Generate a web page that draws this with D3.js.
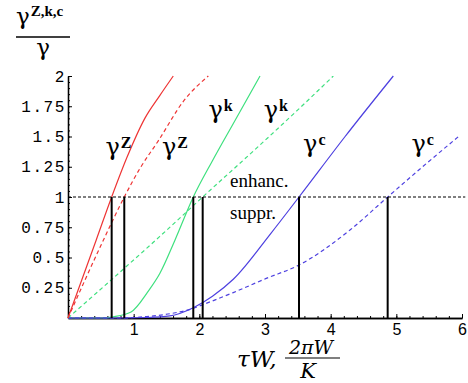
<!DOCTYPE html>
<html>
<head>
<meta charset="utf-8">
<script src="https://cdn.jsdelivr.net/npm/d3@7"></script>
<style>
  body { margin: 0; background: #fff; }
  svg { display: block; }
</style>
</head>
<body>
<div id="chart"></div>
<script>
// values
const redSolidX   = [0, 0.43, 0.665, 0.9, 1.17, 1.40, 1.603];
const redSolidY   = [0, 0.645, 1, 1.33, 1.65, 1.84, 2];
const redDashX    = [0, 0.54, 0.857, 1.1, 1.37, 1.77, 2.137];
const redDashY    = [0, 0.645, 1, 1.24, 1.46, 1.80, 2];
const greenSolidX = [0, 0.5, 0.69, 0.96, 1.22, 1.40, 1.63, 1.908, 2.2, 2.52, 2.924];
const greenSolidY = [0, 0, 0.01, 0.05, 0.22, 0.37, 0.645, 1, 1.3, 1.61, 2];
const greenDashX  = [0, 0.69, 1.39, 2.051, 2.924, 3.5, 4.04];
const greenDashY  = [0, 0.33, 0.67, 1, 1.43, 1.72, 2];
const blueSolidX  = [0, 0.8, 1.2, 1.55, 1.908, 2.2, 2.517, 3.09, 3.518, 4.22, 4.954];
const blueSolidY  = [0, 0, 0.004, 0.017, 0.085, 0.18, 0.32, 0.70, 1, 1.5, 2];
const blueDashX   = [0, 0.8, 1.2, 1.55, 1.908, 2.0, 2.517, 3.01, 3.518, 4.294, 4.868, 5.4, 5.97];
const blueDashY   = [0, 0, 0.012, 0.035, 0.08, 0.099, 0.21, 0.325, 0.438, 0.727, 1, 1.25, 1.51];

// where each curve crosses 1 (vertical markers)
const crossings = [0.665, 0.857, 1.908, 2.051, 3.518, 4.868];

const yTickValues = [0.25, 0.5, 0.75, 1, 1.25, 1.5, 1.75, 2];
const yTickLabels = ['0.25', '0.5', '0.75', '1', '1.25', '1.5', '1.75', '2'];
const xTickValues = [1, 2, 3, 4, 5, 6];

// curve labels: [x value, y value, superscript]
const curveLabels = [
    [0.57, 1.345, 'Z'], [1.43, 1.345, 'Z'],
    [2.14, 1.65, 'k'], [2.98, 1.65, 'k'],
    [3.58, 1.37, 'c'], [5.23, 1.37, 'c']
];

const width = 468, height = 383;
const x = d3.scaleLinear().domain([0, 6]).range([68, 462]);
const y = d3.scaleLinear().domain([0, 2]).range([318, 76]);

const svg = d3.select('#chart')
    .append('svg')
    .attr('width', width)
    .attr('height', height);

svg.append('rect').attr('width', width).attr('height', height).attr('fill', '#fff');

const serif = "'Liberation Serif', 'DejaVu Serif', serif";
const mathSerif = "'DejaVu Serif', serif";

// axes
function drawAxes() {
    const yMinor = d3.axisLeft(y)
        .tickValues(d3.range(0.05, 2.001, 0.05))
        .tickSizeInner(-2).tickSizeOuter(0).tickFormat('');
    const yMajor = d3.axisLeft(y)
        .tickValues(yTickValues)
        .tickSizeInner(-4).tickSizeOuter(0)
        .tickPadding(2)
        .tickFormat((d, i) => yTickLabels[i]);

    const gy = svg.append('g').attr('transform', `translate(${x(0)},0)`);
    gy.append('g').call(yMinor);
    gy.append('g').call(yMajor);
    gy.selectAll('text')
        .style('font-family', "'Liberation Mono', 'DejaVu Sans Mono', monospace")
        .style('font-size', '16px')
        .style('letter-spacing', '1.6px')
        .attr('fill', '#000');

    const xMinor = d3.axisBottom(x)
        .tickValues(d3.range(0.2, 6.001, 0.2))
        .tickSizeInner(-2).tickSizeOuter(0).tickFormat('');
    const xMajor = d3.axisBottom(x)
        .tickValues(xTickValues)
        .tickSizeInner(-4).tickSizeOuter(0)
        .tickPadding(6)
        .tickFormat(d3.format('d'));

    const gx = svg.append('g').attr('transform', `translate(0,${y(0)})`);
    gx.append('g').call(xMinor);
    gx.append('g').call(xMajor);
    gx.selectAll('text')
        .style('font-family', "'Liberation Sans', Arial, sans-serif")
        .style('font-size', '16px')
        .attr('fill', '#000');

    svg.selectAll('.domain').attr('stroke', '#000').attr('stroke-width', 1.3);
    svg.selectAll('.tick line').attr('stroke', '#000').attr('stroke-width', 1);
}

function drawCurves() {
    const line = d3.line()
        .x(d => x(d[0]))
        .y(d => y(d[1]))
        .curve(d3.curveMonotoneX);

    const series = [
        { xs: greenSolidX, ys: greenSolidY, color: '#3ee07e', dash: null },
        { xs: greenDashX, ys: greenDashY, color: '#3ee07e', dash: '4,3' },
        { xs: blueDashX, ys: blueDashY, color: '#4d40e0', dash: '4,3' },
        { xs: blueSolidX, ys: blueSolidY, color: '#4d40e0', dash: null },
        { xs: redDashX, ys: redDashY, color: '#ee3434', dash: '4,3' },
        { xs: redSolidX, ys: redSolidY, color: '#ee3434', dash: null }
    ];

    series.forEach(s => {
        svg.append('path')
            .datum(s.xs.map((v, i) => [v, s.ys[i]]))
            .attr('d', line)
            .attr('fill', 'none')
            .attr('stroke', s.color)
            .attr('stroke-width', 1.2)
            .attr('stroke-dasharray', s.dash);
    });

    // dashed level line at 1
    svg.append('line')
        .attr('x1', x(0)).attr('x2', x(6.05))
        .attr('y1', y(1)).attr('y2', y(1))
        .attr('stroke', '#000')
        .attr('stroke-width', 1.2)
        .attr('stroke-dasharray', '3,2');

    // vertical markers
    svg.selectAll('.marker')
        .data(crossings)
        .enter()
        .append('line')
        .attr('class', 'marker')
        .attr('x1', d => x(d)).attr('x2', d => x(d))
        .attr('y1', y(0)).attr('y2', y(1))
        .attr('stroke', '#000')
        .attr('stroke-width', 2);
}

function drawLabels() {
    curveLabels.forEach(d => {
        const t = svg.append('text')
            .attr('x', x(d[0]))
            .attr('y', y(d[1]))
            .attr('fill', '#000');
        t.append('tspan')
            .style('font-family', mathSerif)
            .style('font-size', '24px')
            .text('γ');
        t.append('tspan')
            .attr('dx', 1)
            .attr('dy', -7)
            .style('font-family', serif)
            .style('font-weight', 'bold')
            .style('font-size', '16px')
            .text(d[2]);
    });

    svg.append('text')
        .attr('x', 230).attr('y', 187)
        .style('font-family', serif).style('font-size', '19px')
        .text('enhanc.');
    svg.append('text')
        .attr('x', 230).attr('y', 219)
        .style('font-family', serif).style('font-size', '19px')
        .text('suppr.');

    // y axis title: fraction
    const num = svg.append('text')
        .attr('x', 16).attr('y', 24);
    num.append('tspan')
        .style('font-family', mathSerif).style('font-size', '23px')
        .text('γ');
    num.append('tspan')
        .attr('dx', 1).attr('dy', -8)
        .style('font-family', serif).style('font-weight', 'bold').style('font-size', '15px')
        .text('Z,k,c');
    svg.append('line')
        .attr('x1', 16).attr('x2', 70).attr('y1', 37).attr('y2', 37)
        .attr('stroke', '#000').attr('stroke-width', 1.3);
    svg.append('text')
        .attr('x', 43).attr('y', 55)
        .attr('text-anchor', 'middle')
        .style('font-family', mathSerif).style('font-size', '23px')
        .text('γ');

    // x axis title
    svg.append('text')
        .attr('x', 237).attr('y', 367)
        .style('font-family', mathSerif).style('font-style', 'italic').style('font-size', '23px')
        .text('τW,');
    svg.append('text')
        .attr('x', 311).attr('y', 354)
        .attr('text-anchor', 'middle')
        .style('font-family', mathSerif).style('font-style', 'italic').style('font-size', '19px')
        .text('2πW');
    svg.append('line')
        .attr('x1', 285).attr('x2', 340).attr('y1', 358).attr('y2', 358)
        .attr('stroke', '#000').attr('stroke-width', 1.2);
    svg.append('text')
        .attr('x', 308).attr('y', 378)
        .attr('text-anchor', 'middle')
        .style('font-family', mathSerif).style('font-style', 'italic').style('font-size', '21px')
        .text('K');
}

drawAxes();
drawCurves();
drawLabels();
</script>
</body>
</html>
